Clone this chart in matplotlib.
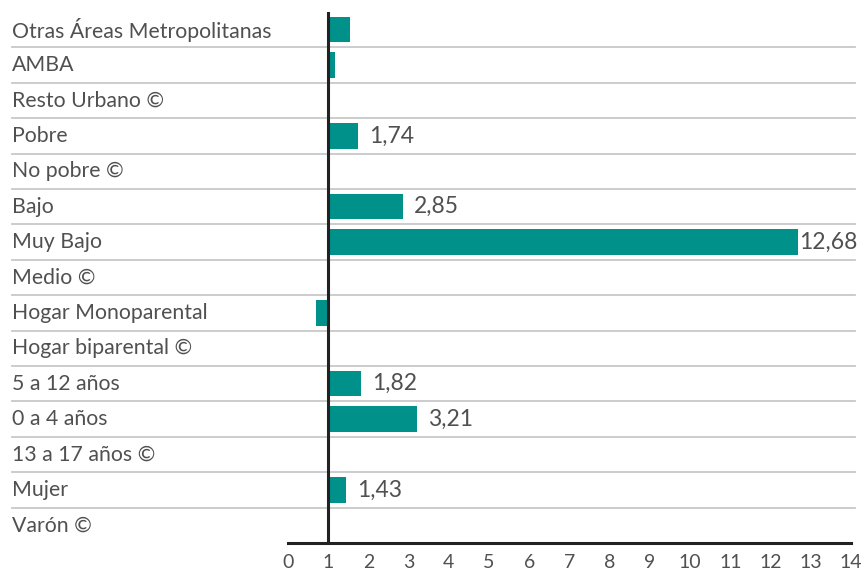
import matplotlib.pyplot as plt
from matplotlib.lines import Line2D

categories = [
    "Otras Áreas Metropolitanas", "AMBA", "Resto Urbano ©", "Pobre", "No pobre ©",
    "Bajo", "Muy Bajo", "Medio ©", "Hogar Monoparental", "Hogar biparental ©",
    "5 a 12 años", "0 a 4 años", "13 a 17 años ©", "Mujer", "Varón ©",
]
values = [1.54, 1.16, None, 1.74, None, 2.85, 12.68, None, 0.70, None,
          1.82, 3.21, None, 1.43, None]
value_labels = [None, None, None, "1,74", None, "2,85", "12,68", None, None, None,
                "1,82", "3,21", None, "1,43", None]
baseline = 1
xticks = list(range(0, 15))

plt.rcParams['font.family'] = ['Lato', 'DejaVu Sans']
text_color = '#505050'
bar_color = '#00918A'

fig = plt.figure(figsize=(8.61, 5.70), dpi=100)
W, H = 861, 570
ax = fig.add_axes([288 / W, 27 / H, (851 - 288) / W, (543 - 12) / H])
ax.set_facecolor('none')

n = len(categories)
for i, (v, lab) in enumerate(zip(values, value_labels)):
    if v is None:
        continue
    ax.barh(i, v - baseline, left=baseline, height=0.72, color=bar_color, zorder=2)
    if lab:
        pad = 1 if v > 12 else 8
        ax.annotate(lab, (v, i), xytext=(pad, 0), textcoords='offset points',
                    va='center', ha='left', fontsize=16.5, color=text_color)

ax.set_xlim(0, 14)
ax.set_ylim(n - 0.5, -0.5)
ax.set_xticks(xticks)
ax.set_xticklabels([str(t) for t in xticks], fontsize=14, color=text_color)
ax.tick_params(axis='x', length=0, pad=8)
ax.set_yticks([])
for s in ['top', 'right', 'left']:
    ax.spines[s].set_visible(False)
ax.spines['bottom'].set_color('#222222')
ax.spines['bottom'].set_linewidth(2.2)

ax.axvline(baseline, color='#222222', linewidth=2.2, zorder=3)

# row separators and category labels
x0 = 12 / W
x1 = 855 / W
y_top = (570 - 12) / H
row_h = (543 - 12) / H / n
for i, cat in enumerate(categories):
    yc = y_top - (i + 0.5) * row_h
    fig.text(x0, yc, cat, ha='left', va='center', fontsize=15.3, color=text_color)
    if i < n - 1:
        yl = y_top - (i + 1) * row_h
        fig.add_artist(Line2D([x0, x1], [yl, yl], color='#c8c8c8', linewidth=1.3, zorder=-1))

fig.savefig('out.png', dpi=100)
